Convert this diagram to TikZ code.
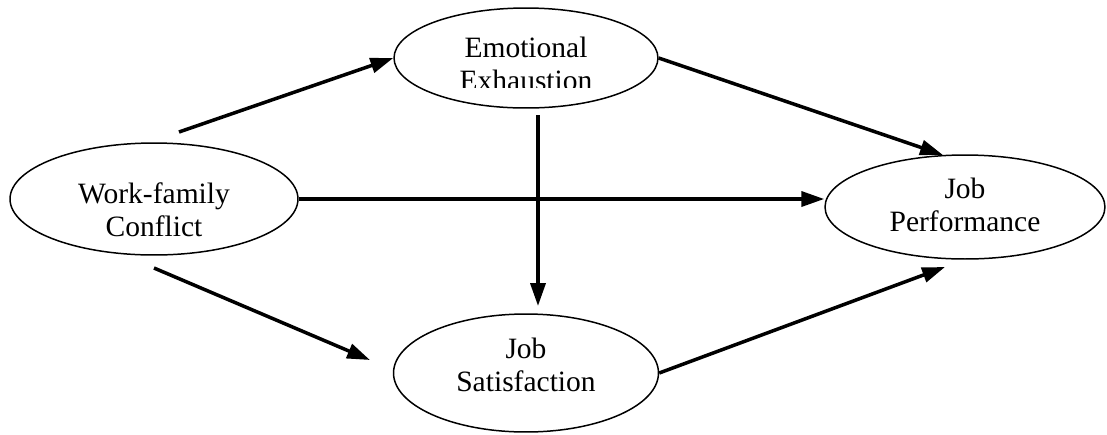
\documentclass[tikz,border=0pt]{standalone}
\usepackage{fontspec}
\setmainfont{Liberation Serif}
\usetikzlibrary{shapes.geometric, arrows.meta}

\tikzset{
  construct/.style={draw, ellipse, line width=0.85pt, inner sep=0pt},
  lbl/.style={align=center, inner sep=0pt, font=\fontsize{16.8}{18.8}\selectfont},
  effect/.style={-{Triangle[length=13pt,width=8.5pt]}, line width=2pt}
}

\begin{document}
\begin{tikzpicture}[x=0.02cm, y=-0.02cm]
\useasboundingbox (0,0) rectangle (1107,434);
% the four constructs
\node[construct, minimum width=5.28cm, minimum height=2cm] (ee) at (526,58){};
\node[construct, minimum width=5.76cm, minimum height=2.24cm] (wf) at (154,199){};
\node[construct, minimum width=5.6cm, minimum height=2.08cm] (jp) at (965,207){};
\node[construct, minimum width=5.3cm, minimum height=2.36cm] (js) at (526,373){};
% their labels
\begin{scope}
\clip (394,0) rectangle (658,87);
\node[lbl] (ee-txt) at (526,63.5){Emotional\\Exhaustion};
\end{scope}
\node[lbl] (wf-txt) at (154,210){Work-family\\Conflict};
\node[lbl] (jp-txt) at (965,205){Job\\Performance};
\node[lbl] (js-txt) at (526,365){Job\\Satisfaction};
% free ends of the paths
\coordinate (wf-up) at (179,132);
\coordinate (wf-down) at (154,268);
\coordinate (js-end) at (370,360);
\coordinate (ee-down) at (538,115);
\coordinate (js-top) at (538,306);
\coordinate (jp-low) at (945,267);
% paths
\draw[effect] (wf-up) -- (ee.west);
\draw[effect] (wf-down) -- (js-end);
\draw[effect] (wf.east) -- (jp.west |- wf.east);
\draw[effect] (ee-down) -- (js-top);
\draw[effect] (ee.east) -- (jp.113);
\draw[effect] (js.east) -- (jp-low);
\end{tikzpicture}
\end{document}
